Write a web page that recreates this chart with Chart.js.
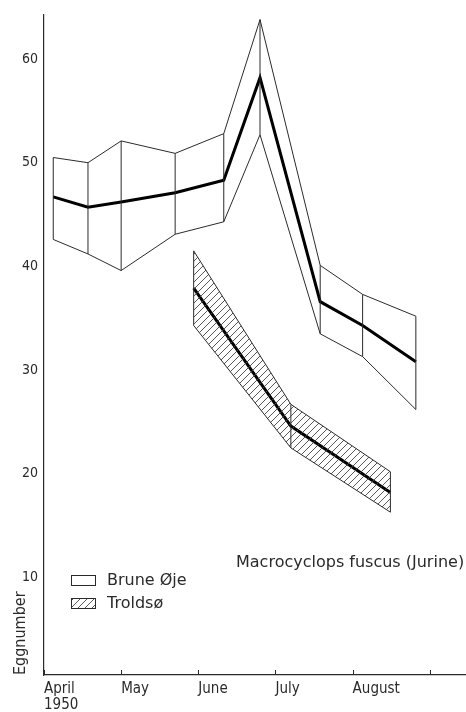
<!DOCTYPE html>
<html>
<head>
<meta charset="utf-8">
<script src="https://cdn.jsdelivr.net/npm/chart.js@4.4.1/dist/chart.umd.min.js"></script>
<style>
  html, body { margin: 0; padding: 0; background: #fff; }
  canvas { display: block; }
</style>
</head>
<body>
<canvas id="c" width="466" height="712"></canvas>
<script>
// ---- data (x = months after 1 April 1950) ----
const monthTicks = [0, 1, 2, 3, 4, 5];
const monthLabels = [['April', '1950'], 'May', 'June', 'July', 'August', ''];
const yTicks = [10, 20, 30, 40, 50, 60];

const bruneX     = [0.12, 0.57, 1.00, 1.70, 2.33, 2.80, 3.58, 4.13, 4.82];
const bruneMean  = [46.7, 45.7, 46.2, 47.1, 48.3, 58.2, 36.6, 34.3, 30.8];
const bruneUpper = [50.5, 50.0, 52.1, 50.9, 52.8, 63.8, 40.1, 37.3, 35.2];
const bruneLower = [42.6, 41.2, 39.6, 43.1, 44.3, 52.7, 33.5, 31.3, 26.2];

const troldX     = [1.94, 3.20, 4.49];
const troldMean  = [37.9, 24.6, 18.2];
const troldUpper = [41.5, 26.7, 20.2];
const troldLower = [34.3, 22.5, 16.3];

const titleText = 'Macrocyclops fuscus (Jurine)';
const legendNames = ['Brune Øje', 'Troldsø'];
const yTitle = 'Eggnumber';

// ---- helpers ----
const FONT = "'DejaVu Sans Condensed', 'DejaVu Sans', sans-serif";
const FONT_W = "'DejaVu Sans', sans-serif";
const INK = '#2a2a2a';
const pts = (xs, ys) => xs.map((x, i) => ({ x: x, y: ys[i] }));
function verticals(xs, lo, hi) {
  const out = [];
  xs.forEach((x, i) => { out.push({ x: x, y: lo[i] }, { x: x, y: hi[i] }, { x: x, y: null }); });
  return out;
}
function hatch(ctx) {
  const s = 7;
  const c = document.createElement('canvas');
  c.width = s; c.height = s;
  const g = c.getContext('2d');
  g.strokeStyle = '#444';
  g.lineWidth = 0.9;
  g.beginPath();
  g.moveTo(0, s); g.lineTo(s, 0);
  g.moveTo(-1, 1); g.lineTo(1, -1);
  g.moveTo(s - 1, s + 1); g.lineTo(s + 1, s - 1);
  g.stroke();
  return ctx.createPattern(c, 'repeat');
}

const ctx = document.getElementById('c').getContext('2d');
const pattern = hatch(ctx);

const thin = { borderColor: INK, borderWidth: 1, pointRadius: 0, tension: 0, fill: false };

const overlay = {
  id: 'overlay',
  afterDraw(chart) {
    const c = chart.ctx;
    const xs = chart.scales.x;
    c.save();
    // small tick marks above the x axis
    c.strokeStyle = INK; c.lineWidth = 1;
    monthTicks.forEach(t => {
      const px = Math.round(xs.getPixelForValue(t)) + 0.5;
      c.beginPath(); c.moveTo(px, xs.top); c.lineTo(px, xs.top - 5); c.stroke();
    });
    // legend
    c.font = '16px ' + FONT_W;
    c.textBaseline = 'middle';
    c.textAlign = 'left';
    const lx = 71, ly = [575, 598], bw = 24, bh = 10;
    ly.forEach((y, i) => {
      if (i === 1) { c.fillStyle = pattern; c.fillRect(lx, y, bw, bh); }
      c.strokeStyle = INK; c.lineWidth = 1;
      c.strokeRect(lx + 0.5, y + 0.5, bw, bh);
      c.fillStyle = INK;
      c.fillText(legendNames[i], 107, y + 6);
    });
    // species title
    c.font = '16px ' + FONT_W;
    c.fillText(titleText, 236, 563);
    c.restore();
  }
};

new Chart(ctx, {
  type: 'line',
  data: {
    datasets: [
      Object.assign({}, thin, { label: 'Troldsø upper', data: pts(troldX, troldUpper), fill: '+1', backgroundColor: pattern }),
      Object.assign({}, thin, { label: 'Troldsø lower', data: pts(troldX, troldLower) }),
      Object.assign({}, thin, { label: 'Troldsø verticals', data: verticals(troldX, troldLower, troldUpper), spanGaps: false }),
      Object.assign({}, thin, { label: 'Brune upper', data: pts(bruneX, bruneUpper) }),
      Object.assign({}, thin, { label: 'Brune lower', data: pts(bruneX, bruneLower) }),
      Object.assign({}, thin, { label: 'Brune verticals', data: verticals(bruneX, bruneLower, bruneUpper), spanGaps: false }),
      { label: 'Brune Øje', data: pts(bruneX, bruneMean), borderColor: '#000', borderWidth: 3, pointRadius: 0, tension: 0, fill: false },
      { label: 'Troldsø', data: pts(troldX, troldMean), borderColor: '#000', borderWidth: 3, pointRadius: 0, tension: 0, fill: false }
    ]
  },
  options: {
    responsive: false,
    animation: false,
    devicePixelRatio: 1,
    layout: { padding: { top: 10, right: 0, left: 0, bottom: 0 } },
    plugins: { legend: { display: false }, tooltip: { enabled: false }, title: { display: false } },
    scales: {
      x: {
        type: 'linear', min: 0, max: 5.47,
        afterBuildTicks: s => { s.ticks = monthTicks.map(v => ({ value: v })); },
        afterFit: s => { s.height = 37; },
        grid: { display: false, drawTicks: false },
        border: { display: true, color: INK, width: 1.2 },
        ticks: {
          autoSkip: false, maxRotation: 0, align: 'start', padding: 6,
          color: INK, font: { family: FONT, size: 15, lineHeight: 1.05 },
          callback: (v, i) => monthLabels[i]
        }
      },
      y: {
        type: 'linear', min: 0.6, max: 64.3,
        afterBuildTicks: s => { s.ticks = yTicks.map(v => ({ value: v })); },
        afterFit: s => { s.width = 44; },
        grid: { display: false, drawTicks: false },
        border: { display: true, color: INK, width: 1.2 },
        ticks: { padding: 6, color: INK, font: { family: FONT, size: 14 } },
        title: {
          display: true, text: yTitle, align: 'start', color: INK,
          font: { family: FONT, size: 16, lineHeight: 1.2 }, padding: { top: 11, bottom: 0 }
        }
      }
    }
  },
  plugins: [overlay]
});
</script>
</body>
</html>
